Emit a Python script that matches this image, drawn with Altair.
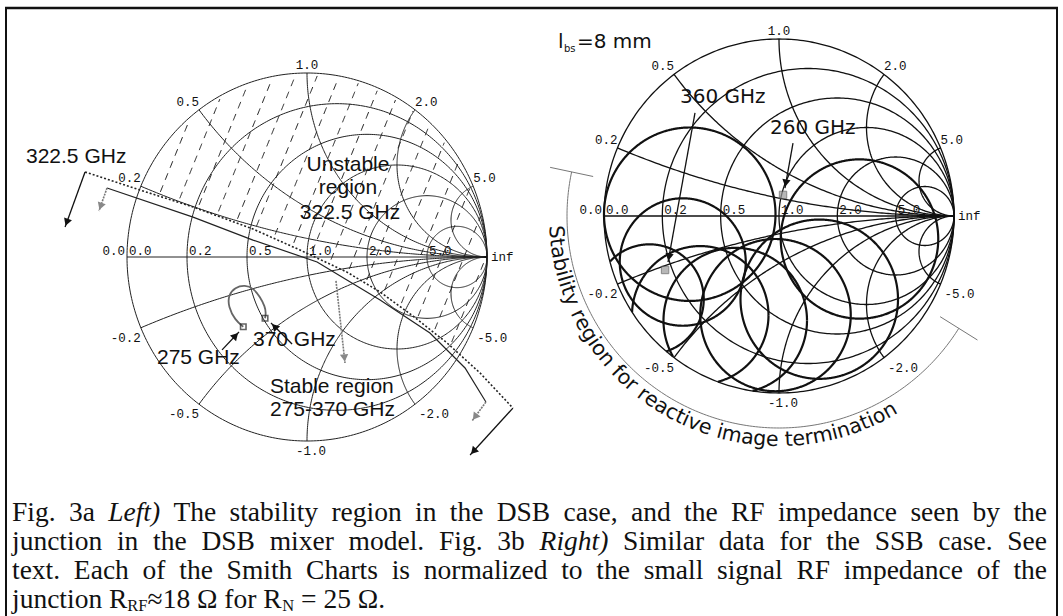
import altair as alt
import numpy as np
import pandas as pd

W, H = 1063, 616

# ---------------- values ----------------
GRID_R = [0.2, 0.5, 1.0, 2.0, 5.0]          # constant resistance circles
GRID_X = [0.2, 0.5, 1.0, 2.0, 5.0]          # constant reactance arcs (+/-)
AXIS_LABELS = ["0.0", "0.2", "0.5", "1.0", "2.0", "5.0"]

# Left chart (reflection-coefficient plane)
# 322.5 GHz stability circle (dotted) and the solid boundary next to it
DOT_U = [-1.233, -0.928, -0.633, -0.300, -0.039, 0.222, 0.406, 0.589, 0.778, 0.961, 1.144]
DOT_V = [0.462, 0.364, 0.272, 0.152, 0.038, -0.082, -0.190, -0.321, -0.467, -0.630, -0.821]
SOL_U = [-1.111, -0.633, -0.300, 0.056, 0.406, 0.683, 0.878, 0.994]
SOL_V = [0.375, 0.217, 0.092, -0.027, -0.234, -0.413, -0.603, -0.788]
# RF impedance seen by the junction, 275 -> 370 GHz
TRACE_U = [-0.354, -0.400, -0.437, -0.437, -0.400, -0.344, -0.298, -0.261, -0.233, -0.228, -0.233]
TRACE_V = [-0.379, -0.342, -0.270, -0.207, -0.165, -0.152, -0.170, -0.216, -0.270, -0.306, -0.333]

# Right chart: stability circles (centre u, centre v, radius)
CIRC_U = [-0.51, 0.46, -0.55, -0.74, -0.45, -0.25, -0.02, 0.23]
CIRC_V = [0.01, -0.13, -0.26, -0.47, -0.56, -0.59, -0.56, -0.47]
CIRC_RHO = [0.49, 0.45, 0.36, 0.31, 0.39, 0.41, 0.43, 0.45]
MARK_R_U = [-0.651, 0.023]
MARK_R_V = [-0.305, 0.119]

# arrows: (u_from, v_from, u_to, v_to, chart, colour)
ARROWS = [
    (-1.233, 0.462, -1.344, 0.163, "L", "#111"),
    (1.144, -0.821, 0.906, -1.076, "L", "#111"),
    (-1.111, 0.375, -1.156, 0.250, "L", "#888"),
    (0.994, -0.788, 0.917, -0.891, "L", "#888"),
    (0.161, -0.130, 0.211, -0.576, "L", "#888"),
    (-0.472, -0.505, -0.378, -0.408, "L", "#111"),
    (-0.083, -0.473, -0.200, -0.359, "L", "#111"),
    (-0.480, 0.582, -0.634, -0.260, "R", "#111"),
    (0.080, 0.412, 0.034, 0.158, "R", "#111"),
]

CURVE_TEXT = "Stability region for reactive image termination"

CAPTION_LINES = [
    "Fig. 3a *Left)* The stability region in the DSB case, and the RF impedance seen by the",
    "junction in the DSB mixer model. Fig. 3b *Right)* Similar data for the SSB case. See",
    "text. Each of the Smith Charts is normalized to the small signal RF impedance of the",
]
CAPTION_LAST = [("junction R", 0), ("RF", 1), ("\u224818 \u03a9 for R", 0), ("N", 1), ("= 25 \u03a9.", 0)]

# ---------------- layout (pixels) ----------------
LEFT = (307, 257, 180, 184)     # centre x, centre y, radius x, radius y
RIGHT = (779, 216, 175, 177)
FRAMES = {"L": LEFT, "R": RIGHT}


def to_px(u, v, F):
    cx, cy, rx, ry = F
    return cx + rx * np.asarray(u, dtype=float), cy - ry * np.asarray(v, dtype=float)


def add_line(store, xs, ys, gid):
    for i, (a, b) in enumerate(zip(xs, ys)):
        store.append({"px": float(a), "py": float(b), "gid": gid, "ord": i})


def add_runs(store, xs, ys, mask, gid):
    run, k = [], 0
    for a, b, m in zip(xs, ys, mask):
        if m:
            run.append((a, b))
        else:
            if len(run) > 1:
                add_line(store, [p[0] for p in run], [p[1] for p in run], f"{gid}-{k}")
                k += 1
            run = []
    if len(run) > 1:
        add_line(store, [p[0] for p in run], [p[1] for p in run], f"{gid}-{k}")


def smith_grid(F, name, store):
    t = np.linspace(0, 2 * np.pi, 361)
    add_line(store, *to_px(np.cos(t), np.sin(t), F), f"{name}-outer")
    for r in GRID_R:
        c, rad = r / (1 + r), 1 / (1 + r)
        add_line(store, *to_px(c + rad * np.cos(t), rad * np.sin(t), F), f"{name}-r{r}")
    rr = np.concatenate([np.linspace(0, 1, 80), np.geomspace(1.01, 20000, 260)])
    for x in GRID_X:
        for s in (1, -1):
            z = rr + 1j * s * x
            g = (z - 1) / (z + 1)
            add_line(store, *to_px(g.real, g.imag, F), f"{name}-x{s * x}")
    add_line(store, *to_px([-1, 1], [0, 0], F), f"{name}-axis")


def grid_labels(F, rows):
    px, py = to_px(-1, 0, F)
    rows.append(dict(px=px - 2, py=py - 6, text="0.0", align="right"))
    for lab, r in zip(AXIS_LABELS, [0.0] + GRID_R):
        px, py = to_px((r - 1) / (r + 1), 0, F)
        rows.append(dict(px=px + 2, py=py - 6, text=lab, align="left"))
    px, py = to_px(1, 0, F)
    rows.append(dict(px=px + 4, py=py, text="inf", align="left"))
    for x in GRID_X:
        for s in (1, -1):
            g = (1j * s * x - 1) / (1j * s * x + 1)
            px, py = to_px(g.real, g.imag, F)
            align = "right" if x < 1 else ("center" if x == 1 else "left")
            dy = -8 if s > 0 else 10
            dx = 0 if s > 0 or x < 1 else 4
            lab = f"{x:.1f}" if s > 0 else f"-{x:.1f}"
            rows.append(dict(px=float(px) + dx, py=float(py) + dy, text=lab, align=align))


X = alt.X("px:Q", scale=alt.Scale(domain=[0, W], nice=False, zero=False), axis=None)
Y = alt.Y("py:Q", scale=alt.Scale(domain=[0, H], nice=False, zero=False, reverse=True), axis=None)


def line_layer(rows, color, width, dash=None):
    kw = dict(color=color, strokeWidth=width, clip=False, strokeCap="butt")
    if dash:
        kw["strokeDash"] = dash
    return alt.Chart(pd.DataFrame(rows)).mark_line(**kw).encode(
        x=X, y=Y, detail="gid:N", order="ord:Q")


def text_layer(rows, align="left", baseline="middle", font="Liberation Sans", size=12,
               style="normal", color="#111", angle=False):
    enc = dict(x=X, y=Y, text="text:N")
    if angle:
        enc["angle"] = alt.Angle("ang:Q", scale=None)
    return alt.Chart(pd.DataFrame(rows)).mark_text(
        align=align, baseline=baseline, font=font, fontSize=size, fontStyle=style,
        color=color).encode(**enc)


layers = []

# ---------- Smith chart grids ----------
gl, gr = [], []
smith_grid(LEFT, "L", gl)
smith_grid(RIGHT, "R", gr)
layers.append(line_layer(gl, "#222", 1.0))
layers.append(line_layer(gr, "#111", 1.3))

# ---------- hatching of the unstable region (left) ----------
bx, by = to_px(DOT_U, DOT_V, LEFT)
hatch = []
ang = np.radians(22)
dvec = (np.sin(ang), -np.cos(ang))
s = np.arange(0, 560, 1.0)
for k in range(0, 30):
    x0, y0 = -40 + 22 * k, 470
    xs, ys = x0 + s * dvec[0], y0 + s * dvec[1]
    cx, cy, rx, ry = LEFT
    inside = ((xs - cx) / rx) ** 2 + ((ys - cy) / ry) ** 2 <= 0.975
    above = ys < np.interp(xs, bx, by) - 4
    add_runs(hatch, xs, ys, inside & above, f"h{k}")
layers.append(line_layer(hatch, "#1a1a1a", 1.0, dash=[7, 6]))

# ---------- stability boundaries (left) ----------
dl = []
add_line(dl, *to_px(DOT_U, DOT_V, LEFT), "dot")
layers.append(line_layer(dl, "#222", 1.6, dash=[2, 2]))
sl = []
add_line(sl, *to_px(SOL_U, SOL_V, LEFT), "sol")
layers.append(line_layer(sl, "#222", 1.2))

# impedance trace
tr = []
add_line(tr, *to_px(TRACE_U, TRACE_V, LEFT), "trace")
layers.append(alt.Chart(pd.DataFrame(tr)).mark_line(
    color="#666", strokeWidth=1.8, interpolate="basis").encode(x=X, y=Y, detail="gid:N", order="ord:Q"))

# ---------- right chart stability circles ----------
cr = []
t = np.linspace(0, 2 * np.pi, 721)
for i, (u0, v0, rho) in enumerate(zip(CIRC_U, CIRC_V, CIRC_RHO)):
    u, v = u0 + rho * np.cos(t), v0 + rho * np.sin(t)
    m = u ** 2 + v ** 2 <= 1.0005
    add_runs(cr, *to_px(u, v, RIGHT), m, f"c{i}")
layers.append(line_layer(cr, "#111", 2.2))

# ---------- arrows ----------
shafts_dark, shafts_gray, heads = [], [], []
for i, (u0, v0, u1, v1, ch, col) in enumerate(ARROWS):
    F = FRAMES[ch]
    (xa, xb), (ya, yb) = to_px([u0, u1], [v0, v1], F)
    tgt = shafts_dark if col == "#111" else shafts_gray
    add_line(tgt, [xa, xb], [ya, yb], f"a{i}")
    dx, dy = xb - xa, yb - ya
    L = np.hypot(dx, dy)
    heads.append(dict(px=xb - dx / L * 5, py=yb - dy / L * 5,
                      ang=float(np.degrees(np.arctan2(dx, -dy)) % 360), col=col))
layers.append(line_layer(shafts_dark, "#111", 1.3))
layers.append(line_layer(shafts_gray, "#777", 1.6, dash=[2, 1]))
layers.append(alt.Chart(pd.DataFrame(heads)).mark_point(
    shape="triangle-up", filled=True, size=70, opacity=1).encode(
    x=X, y=Y, angle=alt.Angle("ang:Q", scale=None),
    color=alt.Color("col:N", scale=None)))

# frequency markers
mk = []
for u, v in [(TRACE_U[0], TRACE_V[0]), (TRACE_U[-1], TRACE_V[-1])]:
    px, py = to_px(u, v, LEFT)
    mk.append(dict(px=float(px), py=float(py)))
layers.append(alt.Chart(pd.DataFrame(mk)).mark_square(
    size=30, filled=False, color="#222", strokeWidth=1.6).encode(x=X, y=Y))
mr = []
for u, v in zip(MARK_R_U, MARK_R_V):
    px, py = to_px(u, v, RIGHT)
    mr.append(dict(px=float(px), py=float(py)))
layers.append(alt.Chart(pd.DataFrame(mr)).mark_square(
    size=55, filled=True, color="#999", stroke="#555", strokeWidth=1).encode(x=X, y=Y))

# ---------- arc bracket and curved text (right) ----------
cx, cy = RIGHT[0], RIGHT[1]
arc = []
phi = np.radians(np.linspace(192, 32, 200))
add_line(arc, cx + 212 * np.cos(phi), cy + 212 * np.sin(phi), "arc")
for j, p in enumerate(np.radians([192, 32])):
    add_line(arc, [cx + 190 * np.cos(p), cx + 234 * np.cos(p)],
             [cy + 190 * np.sin(p), cy + 234 * np.sin(p)], f"tick{j}")
layers.append(line_layer(arc, "#777", 1.0))

DV = {'S': .635, 't': .392, 'a': .613, 'b': .635, 'i': .278, 'l': .278, 'y': .592, ' ': .318,
      'r': .411, 'e': .615, 'g': .635, 'o': .612, 'n': .634, 'f': .352, 'c': .550, 'v': .592,
      'm': .974}
fs_curve = 20.5
rho_b = 230
phi0 = np.radians(177.5)
cum = 0.0
ctext = []
for ch in CURVE_TEXT:
    w = DV[ch] * fs_curve
    mid = cum + w / 2
    p = phi0 - mid / rho_b
    ctext.append(dict(px=cx + rho_b * np.cos(p), py=cy + rho_b * np.sin(p), text=ch,
                      ang=float((np.degrees(p) - 90) % 360)))
    cum += w
layers.append(text_layer(ctext, align="center", baseline="alphabetic", font="DejaVu Sans",
                         size=fs_curve, angle=True))

# ---------- grid labels ----------
lab = []
grid_labels(LEFT, lab)
grid_labels(RIGHT, lab)
labdf = pd.DataFrame(lab)
for al in ["left", "center", "right"]:
    sub = labdf[labdf["align"] == al].to_dict("records")
    if sub:
        layers.append(text_layer(sub, align=al, font="Liberation Mono", size=12.5))

# ---------- annotation texts ----------
left_ann_left = [
    dict(px=26, py=157, text="322.5 GHz"),
    dict(px=157, py=358, text="275 GHz"),
    dict(px=253, py=340, text="370 GHz"),
    dict(px=270, py=387, text="Stable region"),
    dict(px=270, py=410, text="275-370 GHz"),
]
left_ann_center = [
    dict(px=348, py=165, text="Unstable"),
    dict(px=348, py=188, text="region"),
    dict(px=350, py=213, text="322.5 GHz"),
]
layers.append(text_layer(left_ann_left, align="left", size=21))
layers.append(text_layer(left_ann_center, align="center", size=21))

right_ann = [
    dict(px=558, py=42, text="l"),
    dict(px=577, py=42, text="=8 mm"),
    dict(px=680, py=97, text="360 GHz"),
    dict(px=770, py=128, text="260 GHz"),
]
layers.append(text_layer(right_ann, align="left", font="DejaVu Sans", size=20))
layers.append(text_layer([dict(px=564, py=49, text="bs")], align="left",
                         font="DejaVu Sans", size=10))

# ---------- caption ----------
TIMES = {' ': 250, '.': 250, ',': 250, ')': 333, '(': 333, '=': 564, '\u2248': 549, '\u03a9': 768,
         'A': 722, 'B': 667, 'C': 667, 'D': 722, 'E': 611, 'F': 556, 'G': 722, 'H': 722,
         'I': 333, 'L': 611, 'N': 722, 'R': 667, 'S': 556, 'T': 611,
         'a': 444, 'b': 500, 'c': 444, 'd': 500, 'e': 444, 'f': 333, 'g': 500, 'h': 500,
         'i': 278, 'j': 278, 'k': 500, 'l': 278, 'm': 778, 'n': 500, 'o': 500, 'p': 500,
         'r': 333, 's': 389, 't': 278, 'u': 500, 'v': 500, 'x': 500, 'y': 500, 'z': 444}
for dch in "0123456789":
    TIMES[dch] = 500
TIMES_IT = dict(TIMES, L=556, f=278, R=611)

CAP_FS = 27.5
CAP_X0, CAP_X1 = 12, 1047
CAP_BASE = [521, 550, 579, 608]


def wwidth(word, it):
    tab = TIMES_IT if it else TIMES
    return sum(tab.get(c, 500) for c in word) / 1000 * CAP_FS


cap_n, cap_i = [], []
for li, line in enumerate(CAPTION_LINES):
    words = [(w.strip("*"), w.startswith("*")) for w in line.split(" ")]
    widths = [wwidth(w, it) for w, it in words]
    gap = (CAP_X1 - CAP_X0 - sum(widths)) / (len(words) - 1)
    x = CAP_X0
    for (w, it), wd in zip(words, widths):
        (cap_i if it else cap_n).append(dict(px=x, py=CAP_BASE[li], text=w))
        x += wd + gap
x = CAP_X0
sub_n = []
for seg, is_sub in CAPTION_LAST:
    if is_sub:
        sub_n.append(dict(px=x, py=CAP_BASE[3] + 3, text=seg))
        x += sum(TIMES.get(c, 500) for c in seg) / 1000 * CAP_FS * 0.6
        x += 0.25 * CAP_FS if seg == "N" else 0
    else:
        cap_n.append(dict(px=x, py=CAP_BASE[3], text=seg))
        x += wwidth(seg, False)
layers.append(text_layer(cap_n, baseline="alphabetic", font="Liberation Serif", size=CAP_FS))
layers.append(text_layer(cap_i, baseline="alphabetic", font="Liberation Serif", size=CAP_FS,
                         style="italic"))
layers.append(text_layer(sub_n, baseline="alphabetic", font="Liberation Serif",
                         size=CAP_FS * 0.6))

# ---------- frame ----------
frame = [
    alt.Chart(pd.DataFrame({"a": [0]})).mark_rule(color="#111", strokeWidth=2.5).encode(
        x=alt.value(5), x2=alt.value(1058), y=alt.value(8)),
    alt.Chart(pd.DataFrame({"a": [0]})).mark_rule(color="#111", strokeWidth=2).encode(
        x=alt.value(6), y=alt.value(7), y2=alt.value(616)),
    alt.Chart(pd.DataFrame({"a": [0]})).mark_rule(color="#111", strokeWidth=2).encode(
        x=alt.value(1057), y=alt.value(7), y2=alt.value(616)),
]
layers.extend(frame)

chart = alt.layer(*layers).properties(
    width=W, height=H, padding=0, autosize=alt.AutoSizeParams(type="none"),
    background="white").configure_view(stroke=None)

chart.save("out.html", embed_options={"renderer": "svg", "actions": False})
